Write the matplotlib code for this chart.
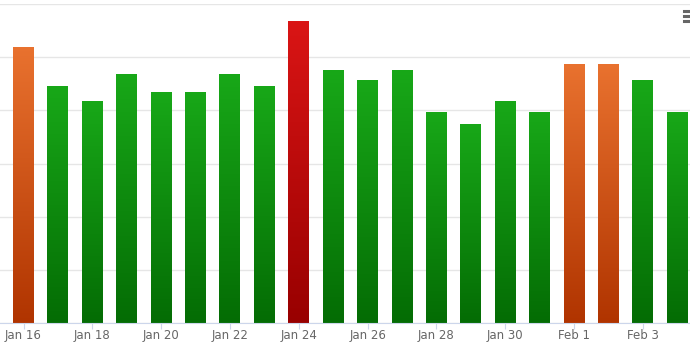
import numpy as np
import matplotlib
matplotlib.use("Agg")
from matplotlib import pyplot as plt
from matplotlib.colors import LinearSegmentedColormap

days = ["Jan 16", "Jan 17", "Jan 18", "Jan 19", "Jan 20", "Jan 21", "Jan 22",
        "Jan 23", "Jan 24", "Jan 25", "Jan 26", "Jan 27", "Jan 28", "Jan 29",
        "Jan 30", "Jan 31", "Feb 1", "Feb 2", "Feb 3", "Feb 4"]
values = [104, 89, 83.5, 93.5, 87, 87, 93.5, 89, 113.5, 95, 91.5, 95,
          79.5, 75, 83.5, 79.5, 97.5, 97.5, 91.5, 79.5]
status = ["warn", "ok", "ok", "ok", "ok", "ok", "ok", "ok", "bad", "ok", "ok", "ok",
          "ok", "ok", "ok", "ok", "warn", "warn", "ok", "ok"]

# top colour, bottom colour
grad = {
    "ok": ("#18a818", "#046c04"),
    "warn": ("#e9722f", "#b03400"),
    "bad": ("#da1515", "#980000"),
}

fig = plt.figure(figsize=(6.9, 3.48), dpi=100)
ax = fig.add_axes([0, 25 / 348, 1, 319 / 348])

x = np.arange(len(days))
bars = ax.bar(x, values, width=0.61, color="none", zorder=2)

for b, s in zip(bars, status):
    cmap = LinearSegmentedColormap.from_list(s, [grad[s][1], grad[s][0]])
    x0, y0 = b.get_x(), b.get_y()
    w, h = b.get_width(), b.get_height()
    img = ax.imshow(np.linspace(0, 1, 256).reshape(-1, 1), cmap=cmap, origin="lower",
                    extent=[x0, x0 + w, y0, y0 + h], aspect="auto", zorder=2)
    img.set_clip_path(b)

ax.set_xlim(-0.683, 19.37)
ax.set_ylim(0, 120)
ax.set_yticks(np.arange(0, 121, 20))
ax.yaxis.grid(True, color="#e6e6e6", linewidth=1)
ax.set_axisbelow(True)
ax.tick_params(axis="y", left=False, labelleft=False)

ax.set_xticks(x[::2])
ax.set_xticklabels(days[::2], fontsize=8.5, color="#666666")
ax.tick_params(axis="x", length=4, color="#ccd6eb", pad=0.5)

for sp in ["top", "left", "right"]:
    ax.spines[sp].set_visible(False)
ax.spines["bottom"].set_color("#ccd6eb")

# export menu icon
for yy in [11, 16, 21]:
    fig.add_artist(plt.Line2D([684 / 690, 690 / 690], [1 - yy / 348] * 2,
                              color="#666666", linewidth=2.2))

fig.savefig("out.png", dpi=100)
